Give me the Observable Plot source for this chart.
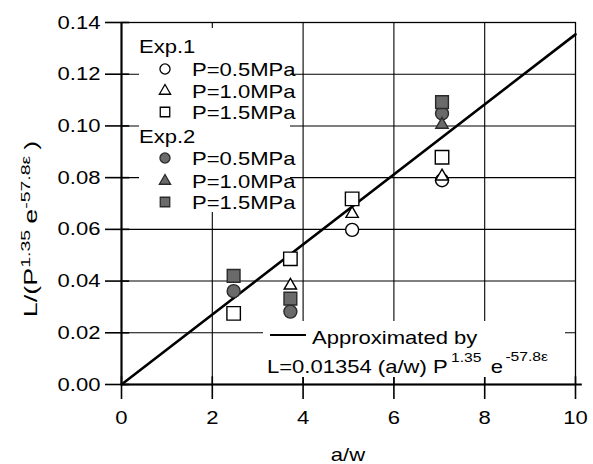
<!DOCTYPE html>
<html><head><meta charset="utf-8">
<script src="https://cdn.jsdelivr.net/npm/d3@7"></script>
<script src="https://cdn.jsdelivr.net/npm/@observablehq/plot@0.6"></script>
<style>
body{margin:0;background:#fff;}
#chart svg{display:block;}
</style></head><body><div id="chart"></div>
<script>
// ---- data ----
const xTicks = [0, 2, 4, 6, 8, 10];
const yTicks = [0, 0.02, 0.04, 0.06, 0.08, 0.10, 0.12, 0.14];
const gridX = [2, 4, 6, 8];
const gridY = [0.02, 0.04, 0.06, 0.08, 0.10, 0.12];

// Exp.1 (open symbols)
const exp1P05 = [{x: 5.08, y: 0.0598}, {x: 7.06, y: 0.0790}];
const exp1P10 = [{x: 3.72, y: 0.0383}, {x: 5.08, y: 0.0660}, {x: 7.06, y: 0.0805}];
const exp1P15 = [{x: 2.47, y: 0.0275}, {x: 3.72, y: 0.0486}, {x: 5.08, y: 0.0718}, {x: 7.06, y: 0.0879}];
// Exp.2 (filled symbols)
const exp2P05 = [{x: 2.47, y: 0.0361}, {x: 3.72, y: 0.0282}, {x: 7.06, y: 0.1048}];
const exp2P10 = [{x: 7.06, y: 0.1005}];
const exp2P15 = [{x: 2.47, y: 0.0420}, {x: 3.72, y: 0.0332}, {x: 7.06, y: 0.1092}];

// approximated line L = 0.01354 (a/w)
const fitX = [0, 10];
const fitY = [0, 0.1354];
const fit = fitX.map((x, i) => ({x, y: fitY[i]}));

const legendTitles = ["Exp.1", "Exp.2"];
const legendLabels = ["P=0.5MPa", "P=1.0MPa", "P=1.5MPa"];

// ---- style ----
const FONT = "'Liberation Sans', Arial, sans-serif";
const FILL = "#6a6a6a";
const DARK = "#2a2a2a";

const openStyle = {stroke: "#000", strokeWidth: 1.4, fill: "#fff"};
const fillStyle = {stroke: DARK, strokeWidth: 1.4, fill: FILL};

const plot = Plot.plot({
  width: 593, height: 464,
  marginLeft: 121, marginRight: 18, marginTop: 22, marginBottom: 80,
  style: {fontFamily: FONT, fontSize: "19px", background: "#fff", color: "#000"},
  x: {domain: [0, 10]},
  y: {domain: [0, 0.14]},
  marks: [
    Plot.ruleY(gridY, {x1: 0, x2: 10, stroke: "#000", strokeWidth: 1.1}),
    Plot.ruleX(gridX, {y1: 0, y2: 0.14, stroke: "#000", strokeWidth: 1.1}),
    Plot.frame({stroke: "#000", strokeWidth: 1.3}),
    Plot.ruleX([0], {y1: 0, y2: 0.14, stroke: "#000", strokeWidth: 2}),
    Plot.ruleY([0], {x1: 0, x2: 10.15, stroke: "#000", strokeWidth: 2}),
    Plot.ruleY(yTicks, {x1: 0, x2: 0.18, stroke: "#000", strokeWidth: 1.6}),
    Plot.ruleX(xTicks, {y1: 0, y2: 0.003, stroke: "#000", strokeWidth: 1.6}),
    Plot.axisX({ticks: xTicks, tickSize: 15, tickPadding: 11, tickFormat: d => String(d), label: null, strokeWidth: 1.6}),
    Plot.axisY({ticks: yTicks, tickSize: 16, tickPadding: 5, tickFormat: d3.format(".2f"), label: null, strokeWidth: 1.6}),
    Plot.line(fit, {x: "x", y: "y", stroke: "#000", strokeWidth: 2.6}),
    Plot.dot(exp1P05, {x: "x", y: "y", symbol: "circle", r: 6.5, ...openStyle}),
    Plot.dot(exp2P05, {x: "x", y: "y", symbol: "circle", r: 6.5, ...fillStyle}),
    Plot.dot(exp1P10, {x: "x", y: "y", symbol: "triangle", r: 4.6, ...openStyle}),
    Plot.dot(exp2P10, {x: "x", y: "y", symbol: "triangle", r: 4.6, ...fillStyle}),
    Plot.dot(exp1P15, {x: "x", y: "y", symbol: "square", r: 7.6, ...openStyle}),
    Plot.dot(exp2P15, {x: "x", y: "y", symbol: "square", r: 7.2, ...fillStyle})
  ]
});

document.getElementById("chart").appendChild(plot);
const svg = d3.select(plot);
const SX = 1.16;

// stretch axis tick labels horizontally about their anchor (the reference type is wide)
svg.selectAll("g[aria-label='x-axis tick label'] text, g[aria-label='y-axis tick label'] text").each(function() {
  const t = d3.select(this);
  const b = this.getBBox();
  const isY = this.parentNode.getAttribute("aria-label").startsWith("y");
  const ax = isY ? b.x + b.width : b.x + b.width / 2;
  const tr = t.attr("transform") || "";
  t.attr("transform", `${tr} translate(${ax},0) scale(${SX},1) translate(${-ax},0)`);
});

function stretchedText(g, x, y, str, size, anchor = "start") {
  return g.append("text")
    .attr("transform", `translate(${x},${y}) scale(${SX},1)`)
    .attr("font-family", FONT).attr("font-size", size)
    .attr("text-anchor", anchor).attr("fill", "#000").text(str);
}

// ---- legend ----
const lg = svg.append("g");
lg.append("rect").attr("x", 139).attr("y", 28).attr("width", 151).attr("height", 184).attr("fill", "#fff");
const rowsY = [46, 69, 91, 112, 136, 158, 181, 202];
const symX = 165, txtX = 192;
const symTypes = [d3.symbolCircle, d3.symbolTriangle, d3.symbolSquare];
const symSizes = [80, 55, 90];
legendTitles.forEach((title, k) => {
  const base = k * 4;
  stretchedText(lg, 139, rowsY[base] + 7, title, 19);
  legendLabels.forEach((lab, j) => {
    const cy = rowsY[base + 1 + j];
    lg.append("path")
      .attr("d", d3.symbol(symTypes[j], symSizes[j])())
      .attr("transform", `translate(${symX},${cy})`)
      .attr("fill", k === 0 ? "#fff" : FILL)
      .attr("stroke", k === 0 ? "#000" : DARK).attr("stroke-width", 1.3);
    stretchedText(lg, txtX, cy + 7, lab, 19);
  });
});

// ---- annotation ----
const an = svg.append("g");
an.append("rect").attr("x", 263).attr("y", 321).attr("width", 302).attr("height", 56).attr("fill", "#fff");
an.append("line").attr("x1", 270).attr("x2", 306).attr("y1", 335).attr("y2", 335)
  .attr("stroke", "#000").attr("stroke-width", 2);
stretchedText(an, 312, 344, "Approximated by", 19);
const l2 = an.append("text")
  .attr("transform", `translate(267,373) scale(${SX},1)`)
  .attr("text-anchor", "start")
  .attr("font-family", FONT).attr("font-size", 19).attr("fill", "#000");
l2.append("tspan").text("L=0.01354 (a/w) P");
l2.append("tspan").attr("dx", 3).attr("dy", -11).attr("font-size", 13.5).text("1.35");
l2.append("tspan").attr("dx", 8).attr("dy", 11).text("e");
l2.append("tspan").attr("dx", 2).attr("dy", -12).attr("font-size", 13.5).text("-57.8\u03b5");

// ---- axis titles ----
stretchedText(svg, 348, 461, "a/w", 19, "middle");
const yl = svg.append("text")
  .attr("transform", "translate(37,229) rotate(-90) scale(1.5,1)")
  .attr("font-family", FONT).attr("font-size", 18).attr("text-anchor", "middle").attr("fill", "#000");
yl.append("tspan").text("L/(P");
yl.append("tspan").attr("dy", -7).attr("font-size", 13).text("1.35");
yl.append("tspan").attr("dx", 4).attr("dy", 7).text("e");
yl.append("tspan").attr("dy", -7).attr("font-size", 13).text("-57.8\u03b5");
yl.append("tspan").attr("dx", 4).attr("dy", 7).text(")");
</script></body></html>
